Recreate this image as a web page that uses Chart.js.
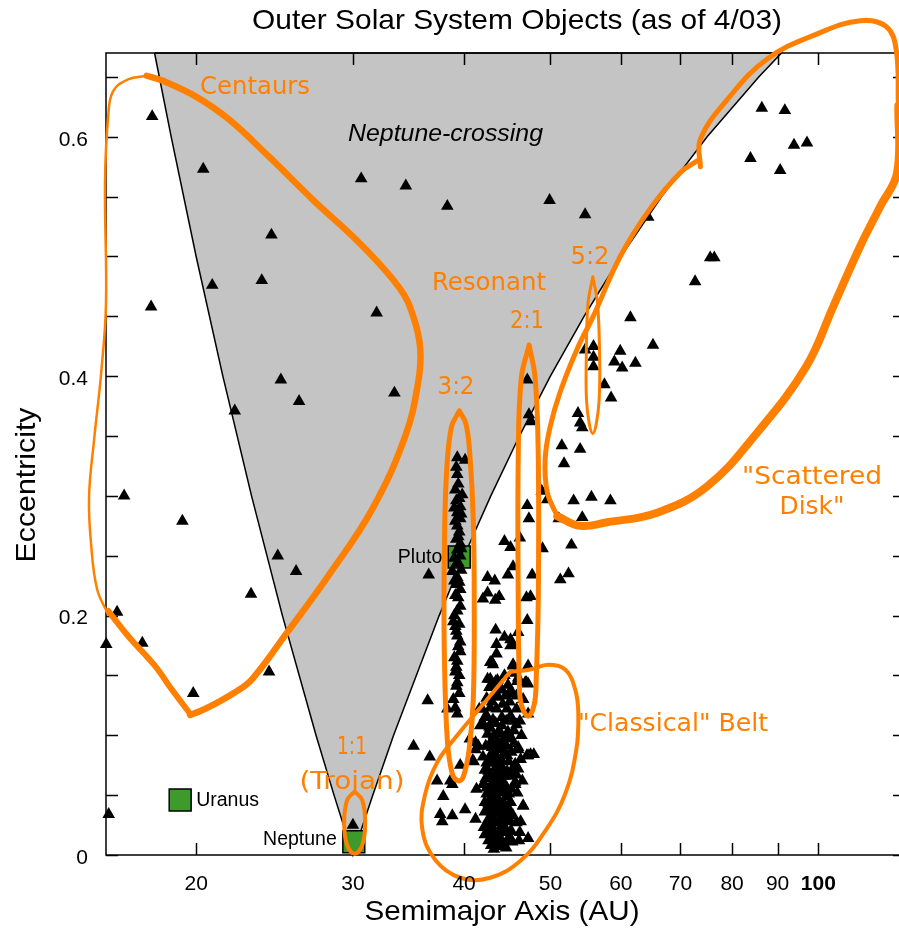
<!DOCTYPE html>
<html><head><meta charset="utf-8">
<script src="https://cdn.jsdelivr.net/npm/chart.js@4.4.0/dist/chart.umd.min.js"></script>
<style>html,body{margin:0;padding:0;background:#fff;}canvas{display:block;}</style>
</head><body>
<canvas id="c" width="899" height="931"></canvas>
<script>
// ---------- axis ticks ----------
const xTicks = [20, 30, 40, 50, 60, 70, 80, 90, 100];
const yTicks = [0, 0.05, 0.1, 0.15, 0.2, 0.25, 0.3, 0.35, 0.4, 0.45, 0.5, 0.55, 0.6, 0.65];
const yLabelled = [0, 0.2, 0.4, 0.6];

// ---------- objects [a (AU), e] ----------
const crossingObjs = [[30.65,0.565],[34.4,0.559],[38.3,0.542],[49.9,0.547],[54.7,0.535],[64.4,0.533],[31.9,0.453],[33.4,0.386],[24.9,0.397],[26.1,0.379],[24.7,0.250],[25.9,0.237],[36.5,0.234]];
const centaurObjs = [[17.85,0.617],[20.37,0.573],[24.3,0.518],[23.7,0.480],[20.85,0.476],[17.8,0.458],[22.1,0.371],[16.6,0.300],[19.3,0.279],[23.05,0.218],[16.3,0.203],[15.85,0.176],[17.4,0.177],[24.15,0.153],[19.85,0.135],[15.95,0.034]];
const trojanObjs = [[30.0,0.025]];
const plutinoObjs = [[39.3,0.332],[40.1,0.330],[39.2,0.324],[39.3,0.318],[39.4,0.310],[39.8,0.301],[39.2,0.296],[39.6,0.291],[39.3,0.286],[39.6,0.281],[39.3,0.275],[39.5,0.270],[39.2,0.264],[39.6,0.260],[39.3,0.255],[39.0,0.248],[39.6,0.250],[39.2,0.243],[39.7,0.238],[38.8,0.237],[39.3,0.232],[39.2,0.226],[39.6,0.222],[39.4,0.215],[39.3,0.204],[38.9,0.195],[39.1,0.191],[39.2,0.187],[39.3,0.183],[39.6,0.178],[39.6,0.170],[39.0,0.165],[39.2,0.157],[39.1,0.153],[39.3,0.144],[39.2,0.141],[39.5,0.135],[39.1,0.123],[39.3,0.118],
[39.1,0.305],[39.5,0.298],[39.0,0.290],[39.7,0.285],[39.1,0.279],[39.4,0.266],[39.7,0.256],[39.4,0.244],[39.0,0.229],[39.5,0.228],[39.1,0.217],[39.6,0.208],[39.0,0.200],[39.5,0.193],[39.4,0.174],[39.3,0.162],[39.5,0.150],[38.9,0.130]];
const twotinoObjs = [[47.1,0.397],[47.3,0.368],[47.6,0.362],[47.1,0.292],[47.3,0.281],[47.7,0.234],[47.5,0.216],[47.0,0.215],[47.1,0.196],[47.2,0.158],[47.0,0.144]];
const res52Objs = [[55.9,0.425],[54.7,0.422],[55.9,0.416],[55.9,0.408],[54.0,0.361],[54.3,0.357],[53.7,0.369]];
const scatteredObjs = [[86.4,0.624],[91.7,0.622],[93.9,0.593],[97.1,0.595],[83.9,0.582],[90.6,0.572],[75.6,0.499],[76.4,0.499],[72.7,0.479],[61.5,0.449],[65.2,0.426],[59.9,0.421],[59.0,0.412],[60.2,0.407],[62.3,0.411],[57.5,0.393],[58.5,0.382],[51.5,0.342],[54.0,0.339],[51.8,0.327],[48.9,0.304],[49.6,0.297],[53.1,0.296],[55.6,0.299],[58.4,0.296],[51.1,0.281],[54.3,0.282],[52.8,0.259]];
const midObjs = [[44.4,0.262],[45.1,0.257],[46.2,0.265],[49.0,0.256],[45.4,0.241],[44.8,0.234],[52.4,0.235],[51.3,0.230],[42.5,0.232],[43.3,0.229],[42.5,0.219],[42.0,0.214],[43.8,0.216],[43.35,0.213],[43.4,0.188],[46.0,0.186],[44.4,0.182],[45.1,0.180],[45.3,0.176],[43.5,0.176],[45.1,0.175],[43.5,0.168],[45.4,0.159],[42.8,0.161],[43.1,0.159],[42.5,0.147],[43.4,0.145],[45.9,0.145]];
const classicalObjs = [[36.4,0.129],[38.3,0.122],[35.1,0.091],[36.6,0.082],[40.6,0.097],[41.2,0.094],[41.5,0.091],[39.6,0.075],[41.0,0.078],[37.3,0.062],[38.6,0.062],[38.8,0.059],[37.9,0.049],[37.6,0.034],[38.8,0.033],[37.8,0.028],[40.1,0.038],[41.2,0.030],[47.9,0.084],[47.2,0.083],[45.65,0.076],[46.0,0.088],[45.65,0.061],[46.6,0.041],[45.1,0.044],[45.1,0.020],[46.2,0.019],[47.2,0.014],[43.5,0.007],[41.6,0.122],[42.5,0.115],[41.7,0.108],[42.7,0.107],
[43.0,0.161],[45.4,0.158],[42.8,0.147],[46.0,0.148],[46.85,0.144],[47.2,0.143],[44.1,0.138],[45.2,0.137],[43.7,0.132],[44.5,0.133],[45.8,0.133],[46.6,0.130],[41.9,0.122],[42.8,0.123],[43.5,0.122],[44.7,0.122],[45.8,0.122],[42.2,0.115],[43.1,0.113],[44.1,0.115],[45.1,0.116],[46.2,0.112],[47.2,0.118],[42.8,0.106],[44.1,0.108],[45.8,0.109],[43.9,0.101],[45.1,0.099],[43.5,0.094],[44.3,0.095],[45.2,0.097],[41.2,0.088],[43.0,0.090],[44.1,0.088],[46.0,0.090],[42.8,0.083],[43.5,0.081],[44.7,0.083],[47.5,0.084],[47.05,0.083],[40.9,0.079],[42.4,0.077],[43.9,0.076],[45.65,0.075],[42.6,0.070],[43.5,0.069],[44.7,0.070],[42.8,0.065],[44.1,0.063],[45.1,0.066],[41.3,0.055],[42.4,0.056],[43.5,0.058],[44.7,0.056],[45.65,0.059],[42.4,0.051],[43.1,0.049],[44.1,0.052],[42.2,0.044],[43.1,0.042],[44.3,0.044],[45.1,0.044],[46.6,0.041],[42.6,0.037],[43.5,0.035],[44.5,0.037],[42.6,0.030],[43.7,0.028],[44.7,0.030],[42.1,0.023],[43.1,0.022],[44.3,0.024],[42.2,0.017],[43.35,0.016],[44.1,0.019],[45.2,0.020],[42.6,0.012],[43.5,0.011],[44.7,0.012],[43.5,0.0075],
[43.2,0.100],[43.8,0.104],[44.4,0.098],[42.9,0.095],[43.6,0.088],[44.6,0.091],[43.3,0.085],[44.0,0.080],[42.9,0.077],[43.4,0.073],[44.2,0.072],[43.0,0.060],[43.8,0.062],[44.4,0.066],[43.6,0.053],[42.8,0.047],[43.7,0.046],[44.6,0.049],[43.2,0.039],[44.0,0.040],[42.9,0.033],[44.0,0.033],[43.3,0.027],[44.2,0.026],[42.8,0.020],[43.9,0.014],[44.3,0.009],[42.9,0.008],[43.0,0.128],[44.2,0.126],[45.0,0.128],[43.3,0.140],[44.8,0.142],[45.5,0.104],[46.4,0.100],[45.9,0.052],[45.4,0.033],[45.8,0.027],[45.3,0.011],[46.5,0.062],
[42.7,0.140],[43.6,0.146],[44.4,0.150],[45.7,0.152],[42.4,0.131],[43.4,0.134],[44.9,0.135],[42.0,0.110],[43.4,0.110],[44.6,0.112],[45.4,0.112],[42.5,0.101],[44.8,0.103],[42.3,0.091],[43.9,0.092],[45.5,0.093],[42.0,0.082],[44.3,0.084],[45.2,0.086],[43.2,0.079],[44.9,0.078],[42.2,0.071],[43.9,0.071],[45.3,0.071],[42.3,0.064],[43.4,0.064],[45.8,0.067],[42.0,0.059],[42.9,0.055],[44.2,0.058],[45.2,0.055],[43.4,0.050],[44.9,0.051],[42.6,0.043],[43.8,0.042],[44.8,0.040],[42.2,0.036],[43.0,0.036],[44.0,0.036],[45.0,0.036],[42.4,0.026],[43.0,0.029],[44.0,0.027],[45.1,0.028],[42.6,0.018],[43.7,0.020],[44.6,0.019],[42.9,0.014],[44.1,0.012],[45.1,0.014],[43.2,0.005],[44.6,0.006],[46.1,0.012],[46.3,0.028],[46.0,0.072],[46.3,0.080]];

// ---------- planets ----------
const planetNames = ['Uranus', 'Neptune', 'Pluto'];
const planetA = [19.19, 30.07, 39.5];
const planetE = [0.046, 0.011, 0.249];

// ---------- Neptune-crossing region boundary [a, e] ----------
const crossingRegion = [[17.96,0.67],[18.75,0.6],[20,0.5],[21.43,0.4],[23.08,0.3],[25,0.2],[27.27,0.1],[28.57,0.05],[30,0],[31.58,0.05],[33.33,0.1],[37.5,0.2],[40,0.25],[42.86,0.3],[46.15,0.35],[50,0.4],[54.55,0.45],[60,0.5],[66.67,0.55],[75,0.6],[85.71,0.65],[90.9,0.67],[17.96,0.67]];

// ---------- hand-drawn outlines [a, e] ----------
const centaurThin = [[17.6,0.651],[16.77,0.648],[16.13,0.638],[15.93,0.617],[15.8,0.562],[15.84,0.461],[15.64,0.402],[15.36,0.347],[15.16,0.299],[15.24,0.260],[15.48,0.222],[15.93,0.201]];
const centaurBottom = [[15.93,0.204],[16.77,0.183],[17.98,0.158],[18.79,0.138],[19.69,0.118]];
const centaurRight = [[19.69,0.117],[20.47,0.122],[22.12,0.136],[23.12,0.147],[25.31,0.186],[28.14,0.233],[31.54,0.289],[34.35,0.350],[35.52,0.395],[35.71,0.423],[35.07,0.450],[33.9,0.473],[30.73,0.509],[27.0,0.548],[24.1,0.584],[21.73,0.615],[19.95,0.634],[18.32,0.647],[17.6,0.651]];
const loop32 = [[39.5,0.371],[40.2,0.360],[40.63,0.331],[40.96,0.280],[41.06,0.214],[40.96,0.130],[40.52,0.088],[39.9,0.065],[39.4,0.062],[38.79,0.068],[38.29,0.097],[38.0,0.172],[38.0,0.247],[38.19,0.314],[38.69,0.357],[39.5,0.371]];
const loop21 = [[47.33,0.426],[48.08,0.398],[48.46,0.331],[48.46,0.214],[48.2,0.147],[47.96,0.126],[47.21,0.116],[46.37,0.126],[46.13,0.147],[46.01,0.214],[46.01,0.331],[46.37,0.398],[47.33,0.426]];
const loop52 = [[55.8,0.483],[56.5,0.46],[56.8,0.412],[56.72,0.38],[56.3,0.36],[55.8,0.352],[55.3,0.36],[54.9,0.38],[54.86,0.412],[55.1,0.46],[55.8,0.483]];
const loopTrojan = [[30.14,0.053],[30.73,0.046],[30.97,0.027],[30.73,0.008],[30.14,0.001],[29.56,0.008],[29.33,0.027],[29.56,0.046],[30.14,0.053]];
const loopClassical = [[45.06,0.153],[47.46,0.155],[49.72,0.159],[51.95,0.155],[53.33,0.138],[53.75,0.118],[53.47,0.088],[51.95,0.051],[49.33,0.020],[46.24,-0.005],[42.79,-0.019],[39.6,-0.019],[37.11,-0.004],[35.89,0.022],[36.17,0.051],[37.35,0.078],[39.4,0.101],[41.7,0.123],[45.06,0.153]];
const sdTop = [[73.7,0.575],[73.7,0.598],[79.0,0.631],[87.6,0.665],[99.7,0.686],[111.5,0.697],[119.2,0.692],[122.3,0.673],[123.0,0.626]];
const sdLower = [[123.0,0.626],[122.6,0.570],[117.4,0.542],[111.5,0.509],[103.9,0.458],[96.9,0.408],[85.4,0.353],[75.0,0.308],[65.9,0.286],[57.9,0.278],[54.0,0.275],[50.9,0.283]];
const sdLeft = [[50.9,0.283],[49.6,0.303],[49.33,0.331],[49.98,0.358],[51.29,0.387],[53.6,0.423],[55.86,0.450],[59.9,0.500],[64.73,0.540],[69.96,0.570],[73.1,0.580]];

// ---------- text ----------
const TITLE = 'Outer Solar System Objects (as of 4/03)';
const X_TITLE = 'Semimajor Axis (AU)';
const Y_TITLE = 'Eccentricity';

const ORANGE = '#ff8000';
const pts = arr => arr.map(p => ({x: p[0], y: p[1]}));
const triSet = (label, arr) => ({label, data: pts(arr), showLine: false, pointStyle: 'triangle', pointRadius: 7.3, pointHoverRadius: 7.3, backgroundColor: '#000', borderColor: '#000', borderWidth: 0, order: 5, clip: false});
const loopSet = (label, arr, w) => ({label, data: pts(arr), showLine: true, borderColor: ORANGE, borderWidth: w, pointRadius: 0, pointHoverRadius: 0, tension: 0.4, capBezierPoints: false, fill: false, order: 1, clip: false, borderCapStyle: 'round', borderJoinStyle: 'round'});

const datasets = [
  {label: 'crossing', data: pts(crossingRegion), showLine: true, fill: 'shape', backgroundColor: '#c4c4c4', borderColor: '#000', borderWidth: 1.5, pointRadius: 0, tension: 0, order: 10, clip: false},
  triSet('crossingObjs', crossingObjs),
  triSet('centaurs', centaurObjs),
  triSet('trojans', trojanObjs),
  triSet('plutinos', plutinoObjs),
  triSet('twotinos', twotinoObjs),
  triSet('res52', res52Objs),
  triSet('scattered', scatteredObjs),
  triSet('mid', midObjs),
  triSet('classical', classicalObjs),
  {label: 'planets', data: planetA.map((a, i) => ({x: a, y: planetE[i]})), showLine: false, pointStyle: 'rect', pointRadius: 15.5, pointHoverRadius: 15.5, backgroundColor: '#3d9a2b', borderColor: '#000', borderWidth: 1.5, order: 6, clip: false},
  loopSet('centaurThin', centaurThin, 2.5),
  loopSet('centaurBottom', centaurBottom, 6),
  loopSet('centaurRight', centaurRight, 6.5),
  loopSet('loop32', loop32, 5),
  loopSet('loop21', loop21, 5),
  loopSet('loop52', loop52, 3),
  loopSet('loopTrojan', loopTrojan, 4),
  loopSet('loopClassical', loopClassical, 4),
  loopSet('sdTop', sdTop, 5),
  loopSet('sdLower', sdLower, 8),
  loopSet('sdLeft', sdLeft, 5)
];

function drawText(ctx, txt, x, y, font, color, align, fitW, rot) {
  ctx.save();
  ctx.font = font; ctx.fillStyle = color; ctx.textBaseline = 'middle'; ctx.textAlign = align || 'center';
  const m = ctx.measureText(txt).width;
  const s = fitW ? fitW / m : 1;
  ctx.translate(x, y);
  if (rot) ctx.rotate(rot);
  ctx.scale(s, 1);
  ctx.fillText(txt, 0, 0);
  ctx.restore();
}

const SANS = '"Liberation Sans", Arial, Helvetica, sans-serif';
const HAND = '"DejaVu Sans", sans-serif';

const deco = {
  id: 'deco',
  afterDatasetDraw(chart, args) {
    if (chart.data.datasets[args.index].label !== 'crossing') return;
    const ctx = chart.ctx, ca = chart.chartArea, xs = chart.scales.x, ys = chart.scales.y;
    ctx.save();
    ctx.strokeStyle = '#000'; ctx.lineWidth = 1.5;
    ctx.beginPath();
    // frame: left, top, bottom (right edge of the box lies just beyond the picture)
    ctx.moveTo(ca.right + 10, ca.top); ctx.lineTo(ca.left, ca.top); ctx.lineTo(ca.left, ca.bottom); ctx.lineTo(ca.right + 10, ca.bottom);
    xTicks.forEach(v => {
      const px = Math.round(xs.getPixelForValue(v)) + 0.5;
      ctx.moveTo(px, ca.bottom); ctx.lineTo(px, ca.bottom - 12);
      ctx.moveTo(px, ca.top); ctx.lineTo(px, ca.top + 12);
    });
    yTicks.forEach(v => {
      const py = Math.round(ys.getPixelForValue(v)) + 0.5;
      ctx.moveTo(ca.left, py); ctx.lineTo(ca.left + 12, py);
      ctx.moveTo(ca.right, py); ctx.lineTo(ca.right - 6, py);
    });
    ctx.stroke();
    ctx.restore();
  },
  afterDraw(chart) {
    const ctx = chart.ctx, ca = chart.chartArea, xs = chart.scales.x, ys = chart.scales.y;
    // tick labels
    xTicks.forEach(v => {
      const f = (v === 100 ? 'bold ' : '') + '21px ' + SANS;
      drawText(ctx, String(v), xs.getPixelForValue(v), ca.bottom + 29, f, '#000', 'center');
    });
    yLabelled.forEach(v => {
      drawText(ctx, String(v), 88, ys.getPixelForValue(v) + 3, '21px ' + SANS, '#000', 'right');
    });
    // titles
    drawText(ctx, TITLE, 517, 21, '28px ' + SANS, '#000', 'center', 530);
    drawText(ctx, X_TITLE, 502, 912, '28px ' + SANS, '#000', 'center', 275);
    drawText(ctx, Y_TITLE, 27, 485, '28px ' + SANS, '#000', 'center', 155, -Math.PI / 2);
    // region & planet labels
    drawText(ctx, 'Neptune-crossing', 445.5, 134, 'italic 24px ' + SANS, '#000', 'center', 195);
    const pl = planetA.map((a, i) => [xs.getPixelForValue(a), ys.getPixelForValue(planetE[i])]);
    drawText(ctx, planetNames[0], pl[0][0] + 16, pl[0][1] + 1, '19.5px ' + SANS, '#000', 'left');
    drawText(ctx, planetNames[1], pl[1][0] - 17, pl[1][1] - 2, '19.5px ' + SANS, '#000', 'right');
    drawText(ctx, planetNames[2], pl[2][0] - 17, pl[2][1] + 1, '19.5px ' + SANS, '#000', 'right');
    // orange annotations
    const H = '25px ' + HAND;
    drawText(ctx, 'Centaurs', 255, 87, H, ORANGE, 'center', 110);
    drawText(ctx, 'Resonant', 489, 283, H, ORANGE, 'center', 114);
    drawText(ctx, '5:2', 590, 257, H, ORANGE, 'center', 39);
    drawText(ctx, '2:1', 527, 321, H, ORANGE, 'center', 34);
    drawText(ctx, '3:2', 456, 387, H, ORANGE, 'center', 37);
    drawText(ctx, '1:1', 352, 747, H, ORANGE, 'center', 30);
    drawText(ctx, '(Trojan)', 352, 782, H, ORANGE, 'center', 105);
    drawText(ctx, '"Scattered', 812, 477, H, ORANGE, 'center', 140);
    drawText(ctx, 'Disk"', 812, 507, H, ORANGE, 'center', 65);
    drawText(ctx, '"Classical" Belt', 673, 724, H, ORANGE, 'center', 190);
  }
};

new Chart(document.getElementById('c'), {
  type: 'scatter',
  data: {datasets},
  options: {
    responsive: false,
    animation: false,
    devicePixelRatio: 1,
    layout: {autoPadding: false, padding: {left: 106, top: 53, right: 0, bottom: 76}},
    elements: {line: {capBezierPoints: false}},
    plugins: {legend: {display: false}, tooltip: {enabled: false}, title: {display: false}},
    scales: {
      x: {type: 'logarithmic', min: 15.84, max: 123.2, display: false},
      y: {type: 'linear', min: 0, max: 0.67, display: false}
    }
  },
  plugins: [deco]
});
</script>
</body></html>
